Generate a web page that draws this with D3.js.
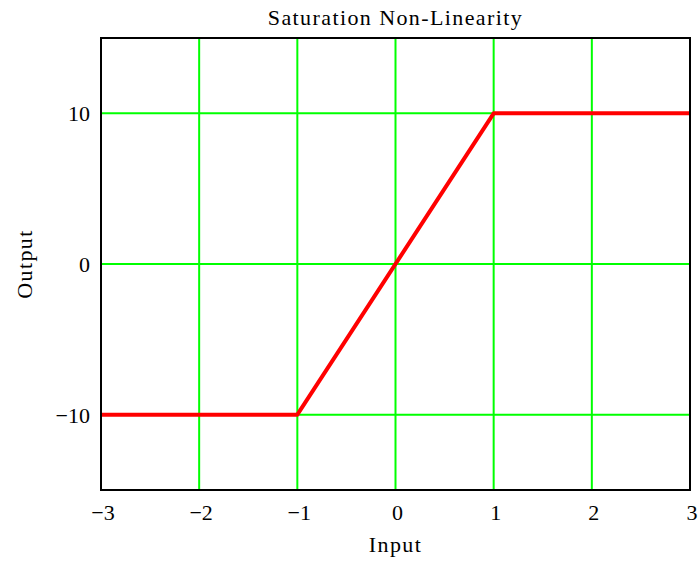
<!DOCTYPE html>
<html>
<head>
<meta charset="utf-8">
<script src="https://cdn.jsdelivr.net/npm/d3@7"></script>
<style>
  body { margin: 0; background: #fff; }
  svg text { font-family: "Liberation Serif", "Times New Roman", serif; fill: #000; font-size: 22px; }
  .lbl { letter-spacing: 1.4px; }
</style>
</head>
<body>
<svg id="chart" width="698" height="562"></svg>
<script>
// saturation curve breakpoints
const inputVals = [-3, -1, 1, 3];
const outputVals = [-10, -10, 10, 10];
const xTicks = [-3, -2, -1, 0, 1, 2, 3];
const yTicks = [-10, 0, 10];

const svg = d3.select("#chart");
const margin = {left: 101, right: 8, top: 38, bottom: 72};
const width = 698, height = 562;

const x = d3.scaleLinear().domain([-3, 3]).range([margin.left, width - margin.right]);
const y = d3.scaleLinear().domain([-15, 15]).range([height - margin.bottom, margin.top]);

const fmt = d => d < 0 ? "\u2212" + Math.abs(d) : String(d);

// grid
svg.append("g")
  .selectAll("line")
  .data(xTicks)
  .enter().append("line")
  .attr("x1", d => x(d)).attr("x2", d => x(d))
  .attr("y1", y(15)).attr("y2", y(-15))
  .attr("stroke", "#00ff00")
  .attr("stroke-width", 2);

svg.append("g")
  .selectAll("line")
  .data(yTicks)
  .enter().append("line")
  .attr("x1", x(-3)).attr("x2", x(3))
  .attr("y1", d => y(d)).attr("y2", d => y(d))
  .attr("stroke", "#00ff00")
  .attr("stroke-width", 2);

// the curve
const pts = inputVals.map((v, i) => [v, outputVals[i]]);
const line = d3.line().x(d => x(d[0])).y(d => y(d[1]));
svg.append("path")
  .datum(pts)
  .attr("d", line)
  .attr("fill", "none")
  .attr("stroke", "#ff0000")
  .attr("stroke-width", 4)
  .attr("stroke-linejoin", "round");

// frame
svg.append("rect")
  .attr("x", x(-3)).attr("y", y(15))
  .attr("width", x(3) - x(-3))
  .attr("height", y(-15) - y(15))
  .attr("fill", "none")
  .attr("stroke", "#000")
  .attr("stroke-width", 2);

// tick labels
svg.append("g")
  .selectAll("text")
  .data(xTicks)
  .enter().append("text")
  .attr("x", d => x(d) + 2)
  .attr("y", y(-15) + 30)
  .attr("text-anchor", "middle")
  .text(fmt);

svg.append("g")
  .selectAll("text")
  .data(yTicks)
  .enter().append("text")
  .attr("x", x(-3) - 11)
  .attr("y", d => y(d) + 8)
  .attr("text-anchor", "end")
  .text(fmt);

// titles
svg.append("text")
  .attr("class", "lbl")
  .attr("x", (x(-3) + x(3)) / 2)
  .attr("y", 25)
  .attr("text-anchor", "middle")
  .text("Saturation Non-Linearity");

svg.append("text")
  .attr("class", "lbl")
  .attr("x", (x(-3) + x(3)) / 2)
  .attr("y", 552)
  .attr("text-anchor", "middle")
  .text("Input");

svg.append("text")
  .attr("class", "lbl")
  .attr("transform", "translate(32," + y(0) + ") rotate(-90)")
  .attr("text-anchor", "middle")
  .text("Output");
</script>
</body>
</html>
